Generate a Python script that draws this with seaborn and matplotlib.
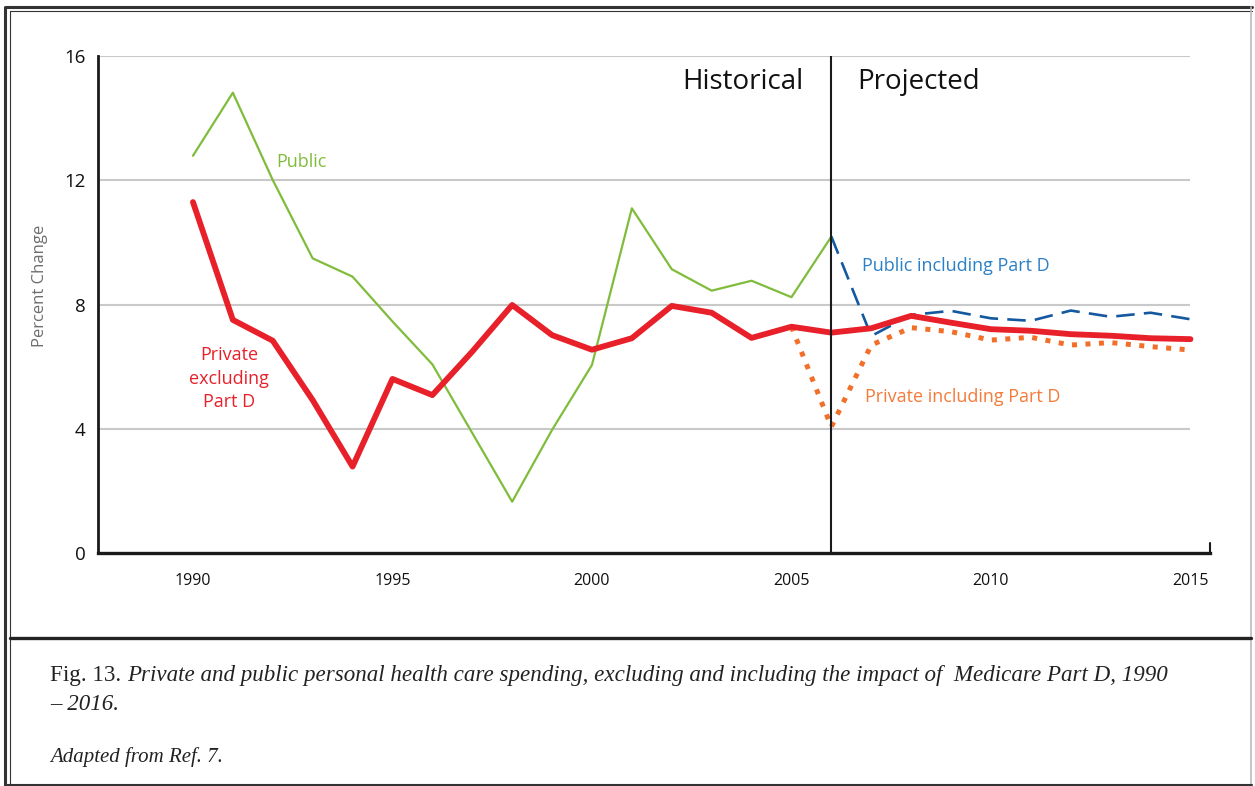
import matplotlib
matplotlib.use("Agg")
import matplotlib.pyplot as plt
import pandas as pd
import seaborn as sns
from matplotlib.lines import Line2D

# values (percent change per year)
hist_years = list(range(1990, 2007))
public = [12.79, 14.82, 12.01, 9.49, 8.90, 7.46, 6.08, 3.87, 1.66, 3.97, 6.06,
          11.10, 9.14, 8.45, 8.77, 8.24, 10.19]

all_years = list(range(1990, 2016))
private_excl = [11.30, 7.51, 6.84, 4.93, 2.79, 5.61, 5.09, 6.49, 7.99, 7.02, 6.55,
                6.92, 7.96, 7.74, 6.93, 7.29, 7.10, 7.24, 7.64, 7.42, 7.21, 7.16,
                7.05, 7.00, 6.92, 6.89]

pub_d_years = list(range(2006, 2016))
public_incl = [10.19, 6.99, 7.67, 7.80, 7.56, 7.48, 7.81, 7.61, 7.74, 7.53]

priv_d_years = list(range(2005, 2016))
private_incl = [7.29, 4.07, 6.70, 7.26, 7.13, 6.86, 6.95, 6.70, 6.78, 6.65, 6.54]

y_ticks = [0, 4, 8, 12, 16]
x_ticks = [1990, 1995, 2000, 2005, 2010, 2015]

GREEN = "#80bc3c"
RED = "#e8202a"
BLUE = "#14589f"
BLUE_TXT = "#2b80c6"
ORANGE = "#f26f2a"
ORANGE_TXT = "#f47b3a"

sns.set_style("white")
plt.rcParams["font.family"] = ["Open Sans", "DejaVu Sans"]

W, H = 1255, 786
fig = plt.figure(figsize=(W / 100, H / 100), dpi=100)
ax = fig.add_axes([98 / W, 1 - 553.3 / H, (1210 - 98) / W, (553.3 - 56) / H])


def fx(px):
    return px / W


def fy(py):
    return 1 - py / H


# gridlines
ax.hlines(y_ticks[1:], 1987.62, 2015, color="#c9c9c9", lw=1.5, zorder=1)

sns.lineplot(x=hist_years, y=public, ax=ax, color=GREEN, lw=1.6, zorder=3)
sns.lineplot(x=all_years, y=private_excl, ax=ax, color=RED, lw=4.2, zorder=5)
sns.lineplot(x=pub_d_years, y=public_incl, ax=ax, color=BLUE, lw=1.9,
             linestyle=(0, (7, 3.5)), zorder=4)
sns.lineplot(x=priv_d_years, y=private_incl, ax=ax, color=ORANGE, lw=3.6,
             linestyle=(0, (1, 1.7)), dash_capstyle="butt", zorder=4)

ax.axvline(2006, color="#1a1a1a", lw=1.5, zorder=6)
ax.axvline(2015.49, ymin=0, ymax=0.02, color="#1a1a1a", lw=1.5, clip_on=False)

ax.set_xlim(1987.62, 2015.49)
ax.set_ylim(0, 16)
ax.set_xticks(x_ticks)
ax.set_yticks(y_ticks)
ax.tick_params(axis="x", length=0, pad=14, labelsize=11.5, colors="#111111")
ax.tick_params(axis="y", length=0, pad=9, labelsize=13.5, colors="#111111")
for side in ["top", "right"]:
    ax.spines[side].set_visible(False)
ax.spines["left"].set_color("#1a1a1a")
ax.spines["left"].set_linewidth(2.0)
ax.spines["bottom"].set_color("#1a1a1a")
ax.spines["bottom"].set_linewidth(2.4)
ax.set_xlabel("")
ax.set_ylabel("")

fig.text(fx(40), fy(286), "Percent Change", rotation=90, ha="center", va="center",
         fontsize=12, color="#6d6d6d")

# annotations
ax.text(2005.29, 15.16, "Historical", ha="right", va="center", fontsize=20, color="#111111")
ax.text(2006.64, 15.16, "Projected", ha="left", va="center", fontsize=20, color="#111111")
ax.text(1992.1, 12.59, "Public", ha="left", va="center", fontsize=13, color=GREEN)
ax.text(2006.77, 9.24, "Public including Part D", ha="left", va="center",
        fontsize=13, color=BLUE_TXT)
ax.text(1990.9, 5.62, "Private\nexcluding\nPart D", ha="center", va="center",
        fontsize=13, color=RED, linespacing=1.4)
ax.text(2006.84, 5.03, "Private including Part D", ha="left", va="center",
        fontsize=13, color=ORANGE_TXT)

# page frame
frame = "#333333"
fig.add_artist(Line2D([fx(6), fx(1252)], [fy(7), fy(7)], color=frame, lw=2.2))
fig.add_artist(Line2D([fx(10), fx(1252)], [fy(11), fy(11)], color=frame, lw=0.8))
fig.add_artist(Line2D([fx(5), fx(5)], [fy(7), fy(786)], color=frame, lw=2.2))
fig.add_artist(Line2D([fx(10), fx(10)], [fy(11), fy(786)], color=frame, lw=0.8))
fig.add_artist(Line2D([fx(1251), fx(1251)], [fy(7), fy(786)], color="#bbbbbb", lw=1.2))
fig.add_artist(Line2D([fx(5), fx(1252)], [fy(785), fy(785)], color=frame, lw=1.5))
fig.add_artist(Line2D([fx(10), fx(1251)], [fy(638), fy(638)], color="#222222", lw=2.4))

# caption
serif = ["Liberation Serif", "DejaVu Serif"]
t1 = fig.text(fx(50), fy(675), "Fig. 13. ", ha="left", va="center", fontsize=16.6,
              family=serif, color="#222222")
fig.canvas.draw()
bb = t1.get_window_extent(renderer=fig.canvas.get_renderer())
fig.text(bb.x1 / W, fy(675),
         "Private and public personal health care spending, excluding and including "
         "the impact of  Medicare Part D, 1990",
         ha="left", va="center", fontsize=16.6, family=serif, style="italic", color="#222222")
fig.text(fx(50), fy(704), "\u2013 2016.", ha="left", va="center", fontsize=16.6,
         family=serif, style="italic", color="#222222")
fig.text(fx(50), fy(757), "Adapted from Ref. 7.", ha="left", va="center", fontsize=15,
         family=serif, style="italic", color="#222222")

fig.savefig("out.png", dpi=100)
